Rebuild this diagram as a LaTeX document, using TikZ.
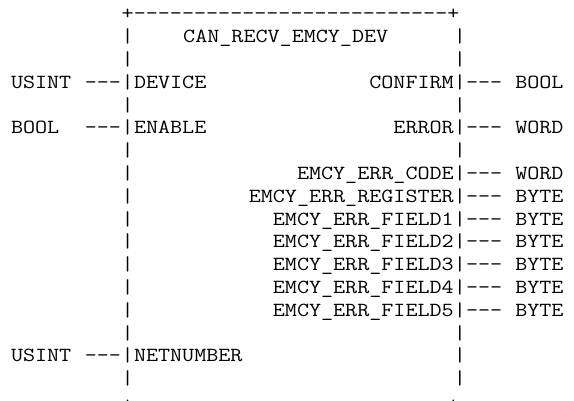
\documentclass[tikz,border=0pt]{standalone}
\usepackage{fontspec}
\usepackage{graphicx}
\newcommand\mt[1]{\scalebox{1.171}[1]{#1}}
\begin{document}
\begin{tikzpicture}[x=12.3pt,y=-22.8pt,
  mono/.style={font=\ttfamily\fontsize{20pt}{22pt}\selectfont, text=black, inner sep=0pt, outer sep=0pt, anchor=base west},
  rmono/.style={mono, anchor=base east}]
\useasboundingbox (0pt,0pt) rectangle (574pt,-400pt);
\clip (0pt,0pt) rectangle (574pt,-400pt);
\begin{scope}[shift={(11pt,-19.8pt)}]
% block border
\node[mono] (top) at (9,0) {\mt{+--------------------------+}};
\node[mono] (bot) at (9,17.12) {\mt{+--------------------------+}};
\foreach \k in {1,...,16} {
  \node[mono] (l\k) at (9,\k) {\mt{|}};
  \node[mono] (r\k) at (36,\k) {\mt{|}};
}
\node[mono] (title) at (14,1) {\mt{CAN\_RECV\_EMCY\_DEV}};
% inputs
\node[mono] (tDevice) at (0,3) {\mt{USINT}};
\node[mono] (cDevice) at (6,3) {\mt{---}};
\node[mono] (pDevice) at (10,3) {\mt{DEVICE}};
\node[mono] (tEnable) at (0,5) {\mt{BOOL}};
\node[mono] (cEnable) at (6,5) {\mt{---}};
\node[mono] (pEnable) at (10,5) {\mt{ENABLE}};
\node[mono] (tNet) at (0,15) {\mt{USINT}};
\node[mono] (cNet) at (6,15) {\mt{---}};
\node[mono] (pNet) at (10,15) {\mt{NETNUMBER}};
% outputs
\foreach \k/\pin/\typ in {3/CONFIRM/BOOL, 5/ERROR/WORD, 7/EMCY\_ERR\_CODE/WORD,
  8/EMCY\_ERR\_REGISTER/BYTE, 9/EMCY\_ERR\_FIELD1/BYTE, 10/EMCY\_ERR\_FIELD2/BYTE,
  11/EMCY\_ERR\_FIELD3/BYTE, 12/EMCY\_ERR\_FIELD4/BYTE, 13/EMCY\_ERR\_FIELD5/BYTE} {
  \node[rmono] (po\k) at (36,\k) {\mt{\pin}};
  \node[mono] (co\k) at (37,\k) {\mt{---}};
  \node[mono] (to\k) at (41,\k) {\mt{\typ}};
}
\end{scope}
\end{tikzpicture}
\end{document}
